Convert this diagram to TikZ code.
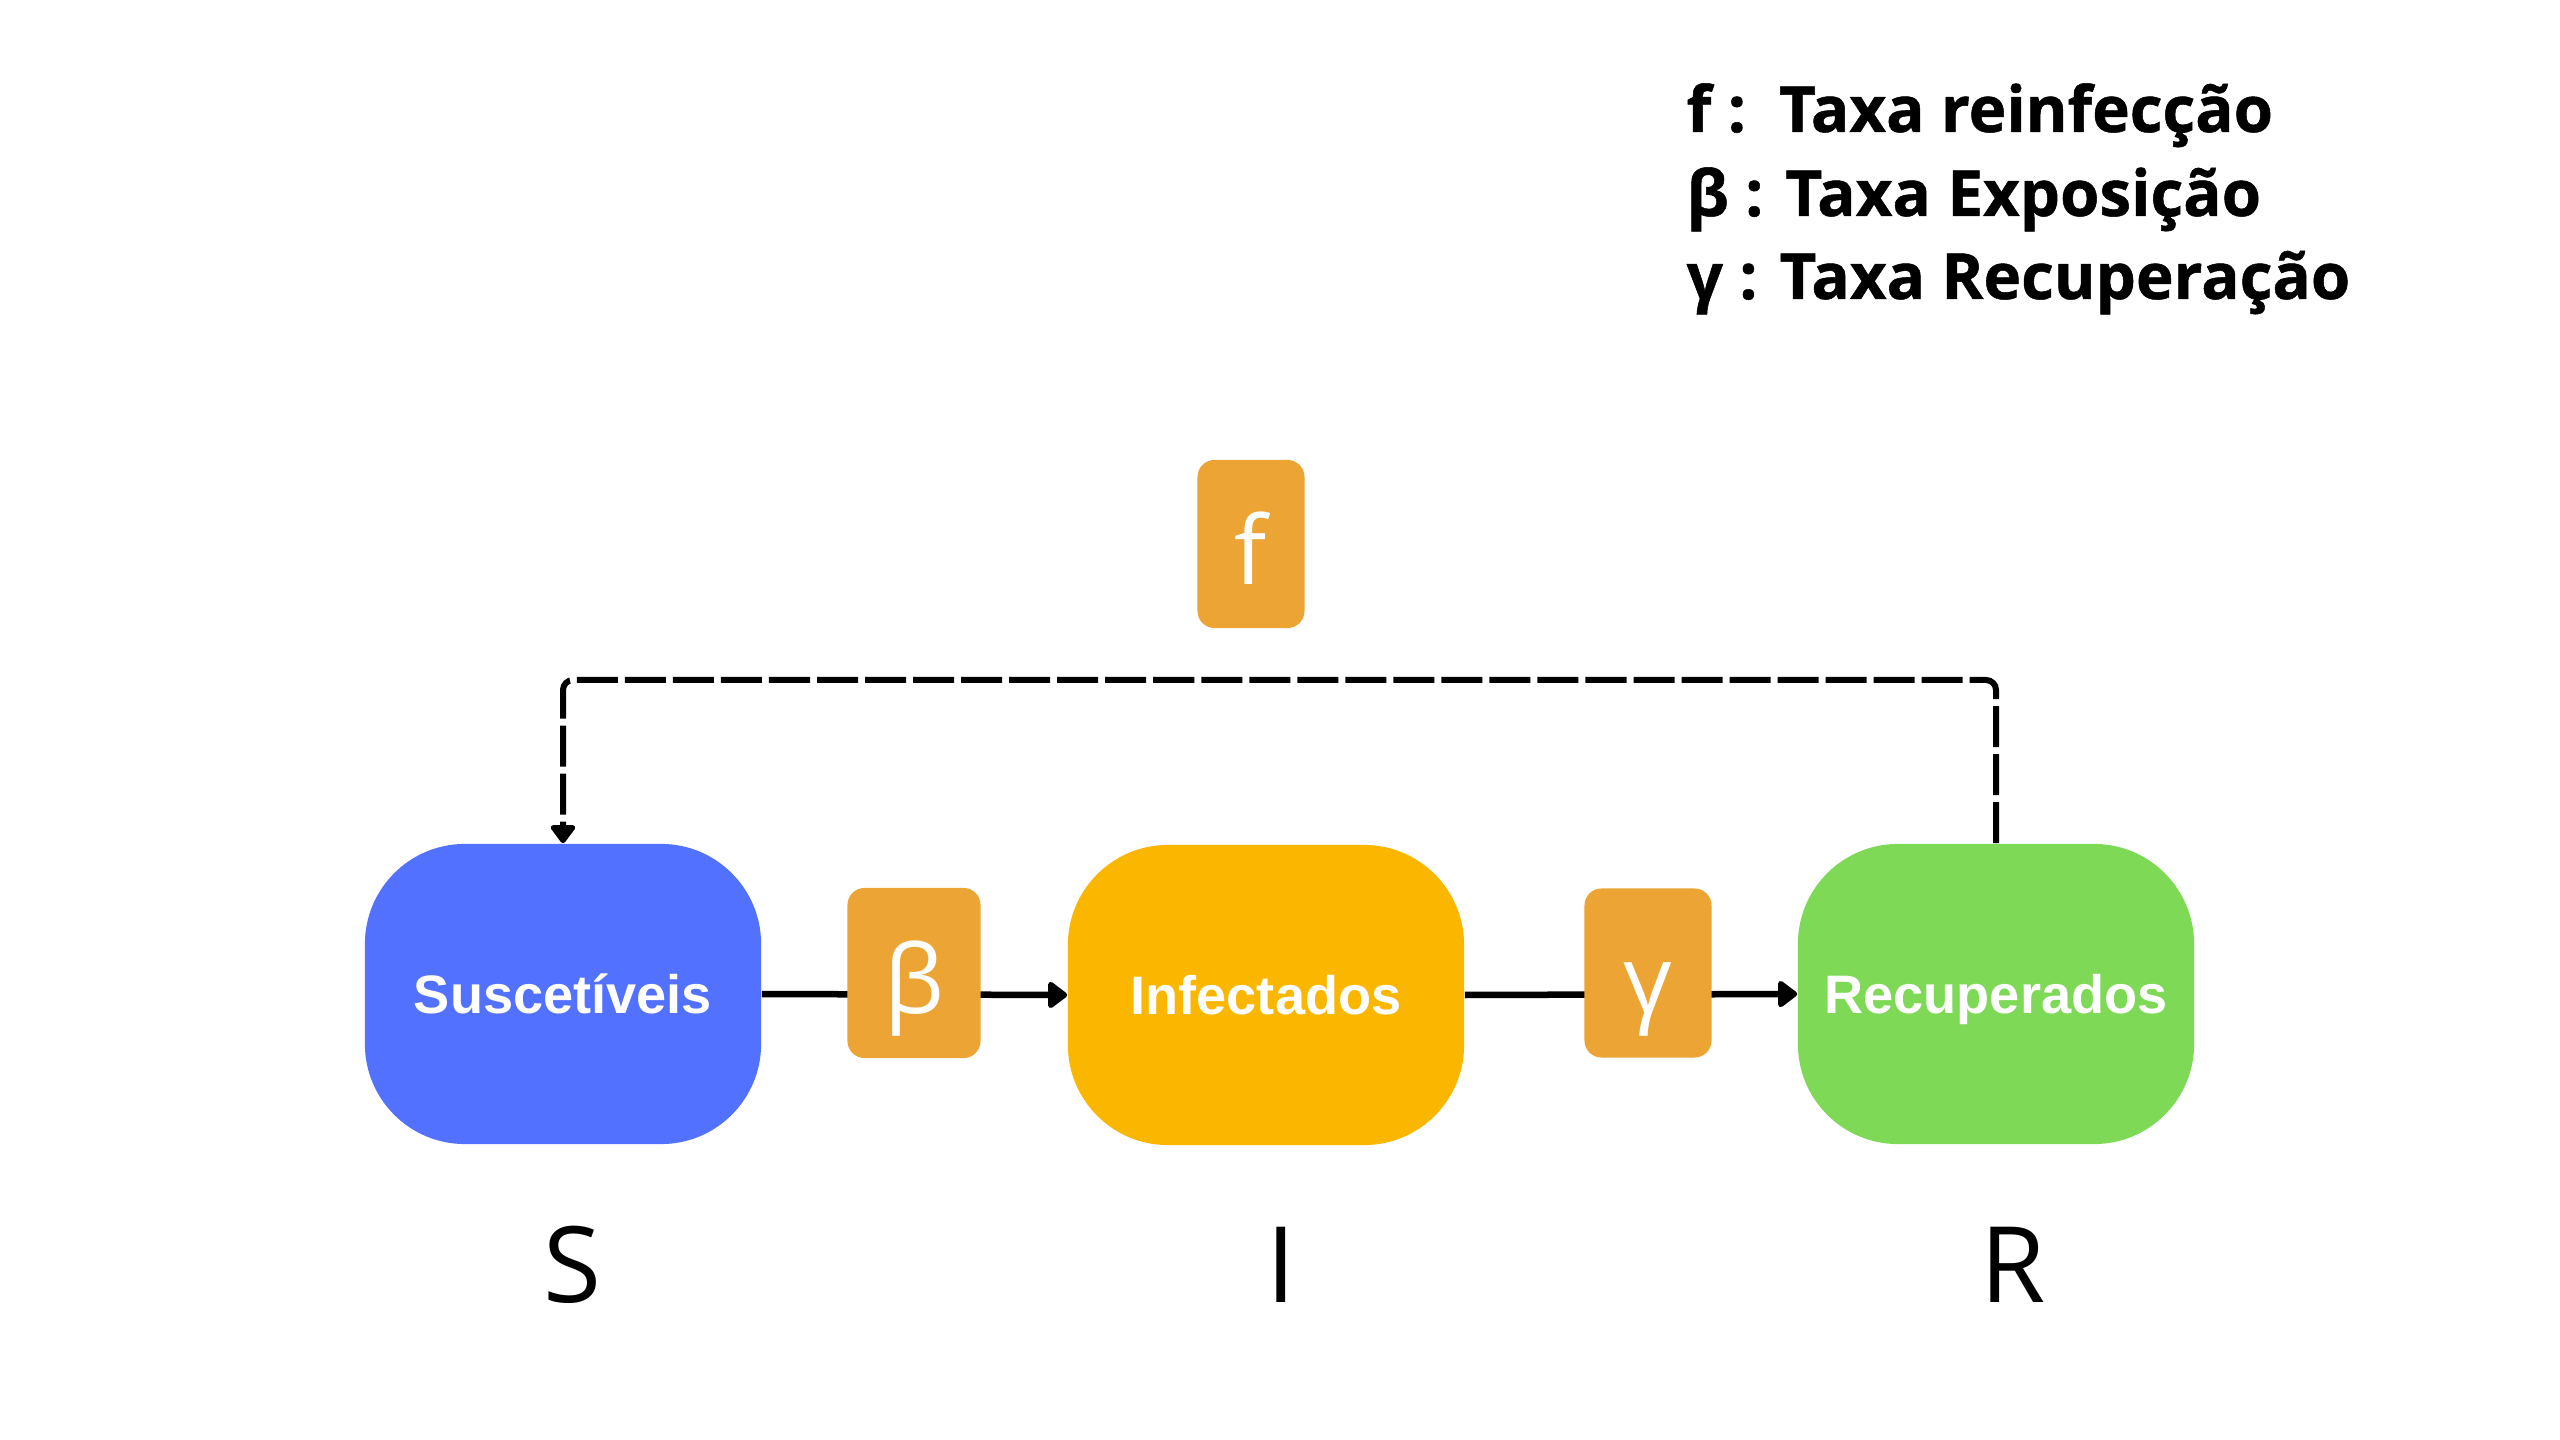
\documentclass[tikz,border=0pt]{standalone}
\usepackage{fontspec}
\setmainfont{Open Sans}
\newfontfamily\boxfont{Liberation Sans}
\newfontfamily\legfont{Open Sans}[BoldFeatures={FakeBold=0.8}]
\usetikzlibrary{arrows.meta}
\definecolor{sblue}{HTML}{5271FF}
\definecolor{iyellow}{HTML}{FBB600}
\definecolor{rgreen}{HTML}{7ED957}
\definecolor{rateorange}{HTML}{ECA534}
\tikzset{
  compbox/.style={draw=none, rounded corners=1cm, minimum width=3.96cm, minimum height=3.0cm,
    text=white, font=\boxfont\bfseries\fontsize{15.4}{18}\selectfont, inner sep=0pt, text depth=0pt},
  ratebox/.style={fill=rateorange, draw=none, rounded corners=0.17cm, text=white,
    font=\fontsize{27}{30}\selectfont, inner sep=0pt, text height=0.8cm, text depth=0cm},
  flow/.style={line width=0.065cm, -{Triangle[length=0.21cm,width=0.3cm,round]}},
  reinf/.style={line width=0.06cm, dash pattern=on 0.41cm off 0.07cm, rounded corners=0.1cm,
    -{Triangle[length=0.2cm,width=0.28cm,round]}},
  legend/.style={anchor=base west, inner sep=0pt, font=\legfont\bfseries\fontsize{18.1}{22}\selectfont},
  letter/.style={inner sep=0pt, font=\fontsize{30}{34}\selectfont}
}
\begin{document}
\begin{tikzpicture}[x=0.01cm, y=-0.01cm]
\useasboundingbox[fill=white] (0,0) rectangle (2560,1440);
% compartments
\node[compbox, fill=sblue] (S) at (563,994) {Suscetíveis};
\node[compbox, fill=iyellow] (I) at (1266,995) {Infectados};
\node[compbox, fill=rgreen] (R) at (1996,994) {Recuperados};
% flows
\draw[flow] (S.east) -- (I.west);
\draw[flow] (I.east) -- (R.west);
% rate boxes
\node[ratebox, minimum width=1.33cm, minimum height=1.70cm] (beta) at (914,973) {β};
\node[ratebox, minimum width=1.27cm, minimum height=1.69cm] (gamma) at (1648,973) {γ};
\node[ratebox, minimum width=1.07cm, minimum height=1.68cm] (f) at (1251,544) {f};
% reinfection
\coordinate (top) at (0,680);
\draw[reinf] (R.north) -- (R.north |- top) -- (S.north |- top) -- (S.north);
% letters
\node[letter] (lS) at (572,1265) {S};
\node[letter] (lI) at (1281,1265) {I};
\node[letter] (lR) at (2013,1265) {R};
% legend
\node[legend] (l1) at (1686,132) {f :\ \ Taxa reinfecção};
\node[legend] (l2) at (1686,216) {β : Taxa Exposição};
\node[legend] (l3) at (1686,299) {γ : Taxa Recuperação};
\end{tikzpicture}
\end{document}
